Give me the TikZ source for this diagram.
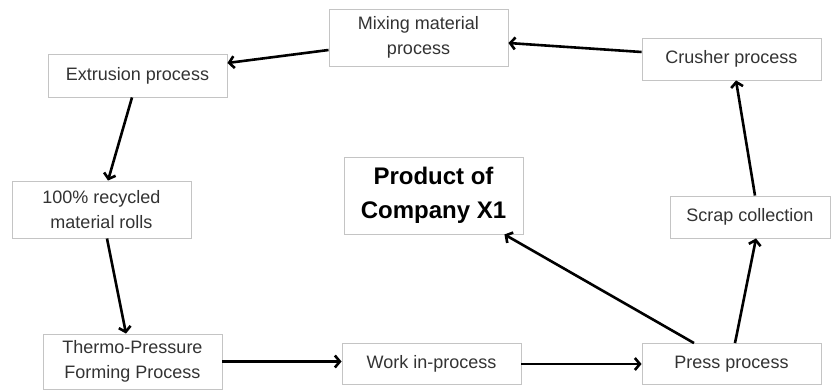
\documentclass[tikz,border=0pt]{standalone}
\usepackage{fontspec}
\setmainfont{Liberation Sans}
\usetikzlibrary{arrows.meta,calc}
\definecolor{boxline}{HTML}{C4C4C4}
\definecolor{txt}{HTML}{333333}
\begin{document}
\begin{tikzpicture}[x=1pt,y=-1pt,
  box/.style={draw=boxline,line width=0.9pt,fill=white,inner sep=0pt,align=center,
    text=txt,font=\fontsize{18}{25}\selectfont,minimum width=179pt},
  bigbox/.style={box,text=black,font=\fontsize{24}{34}\selectfont\bfseries},
  arr/.style={line width=2.6pt,-{Straight Barb[length=5pt,width=12pt,line width=2.6pt]}}]
\useasboundingbox[fill=white] (0,0) rectangle (840,390);
\node[box,minimum height=57pt] (mix) at (418.5,37.5) {Mixing material\\process};
\node[box,minimum height=43pt] (ext) at (137.5,75.5) {Extrusion process};
\node[box,minimum height=42pt] (cru) at (731.5,59) {Crusher process};
\node[box,minimum height=57pt] (rec) at (101.5,209.5) {100\% recycled\\material rolls};
\node[bigbox,minimum height=77pt] (prod) at (433.5,195.5) {Product of\\Company X1};
\node[box,minimum height=42pt,minimum width=160pt] (scr) at (750,217) {Scrap collection};
\node[box,minimum height=55pt] (thermo) at (132.5,361.5) {Thermo-Pressure\\Forming Process};
\node[box,minimum height=41pt] (work) at (431.5,364) {Work in-process};
\node[box,minimum height=41pt] (press) at (731.5,364) {Press process};
\draw[arr] ([yshift=-12.5pt]mix.west) -- ([yshift=12.5pt]ext.east);
\draw[arr] ([yshift=7pt]cru.west) -- ([yshift=-5.5pt]mix.east);
\draw[arr] ([xshift=-5.5pt]ext.south) -- ([xshift=6.5pt]rec.north);
\draw[arr] ([xshift=5.5pt]rec.south) -- ([xshift=-6.5pt]thermo.north);
\draw[arr] (thermo.east) -- (thermo.east -| work.west);
\draw[arr] (work.east) -- (press.west);
\draw[arr] ([xshift=-37.5pt]press.north) -- ([xshift=-19pt]prod.south east);
\draw[arr] ([xshift=3.5pt]press.north) -- ([xshift=6pt]scr.south);
\draw[arr] ([xshift=5pt]scr.north) -- ([xshift=4.5pt]cru.south);
\end{tikzpicture}
\end{document}
